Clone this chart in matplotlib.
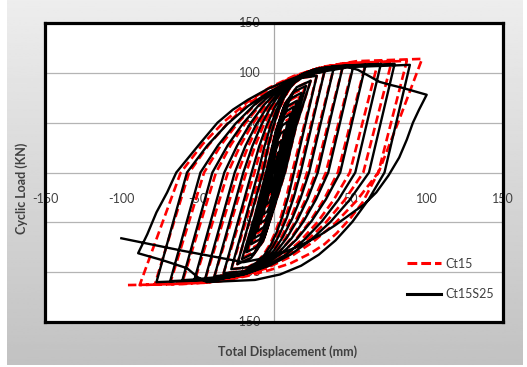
import numpy as np
import matplotlib.pyplot as plt
from matplotlib.lines import Line2D

# Ct15 (red dashed): (displacement mm, load kN) along the test path
ct15 = [
    (0, 0), (1.5, 12), (3, 22),
    (1.8, 11), (0.9, 0), (-0.15, -9.9), (-0.9, -16.5), (-1.86, -20.5), (-3, -22),
    (-1.8, -11), (-0.75, 0), (0.25, 15.3), (1.5, 25.5), (3.1, 31.6), (5, 34),
    (3, 17), (1.5, 0), (-0.25, -15.3), (-1.5, -25.5), (-3.1, -31.6), (-5, -34),
    (-3, -17), (-1.25, 0), (0.35, 19.8), (2.1, 33), (4.34, 40.9), (7, 44),
    (4.2, 22), (2.1, 0), (-0.35, -19.8), (-2.1, -33), (-4.34, -40.9), (-7, -44),
    (-4.2, -22), (-1.75, 0), (0.45, 23.9), (2.7, 39.8), (5.58, 49.3), (9, 53),
    (5.4, 26.5), (2.7, 0), (-0.45, -23.9), (-2.7, -39.8), (-5.58, -49.3), (-9, -53),
    (-5.4, -26.5), (-2.25, 0), (0.55, 27.5), (3.3, 45.8), (6.82, 56.7), (11, 61),
    (6.6, 30.5), (3.3, 0), (-0.55, -27.5), (-3.3, -45.8), (-6.82, -56.7), (-11, -61),
    (-6.6, -30.5), (-2.75, 0), (0.7, 31.5), (4.2, 52.5), (8.68, 65.1), (14, 70),
    (8.4, 35), (4.2, 0), (-0.7, -31.5), (-4.2, -52.5), (-8.68, -65.1), (-14, -70),
    (-8.4, -35), (-3.5, 0), (0.85, 35.1), (5.1, 58.5), (10.54, 72.5), (17, 78),
    (10.2, 39), (5.1, 0), (-0.85, -35.1), (-5.1, -58.5), (-10.54, -72.5), (-17, -78),
    (-10.2, -39), (-4.25, 0), (1, 38.3), (6, 63.8), (12.4, 79.1), (20, 85),
    (12, 42.5), (6, 0), (-1, -38.3), (-6, -63.8), (-12.4, -79.1), (-20, -85),
    (-12, -42.5), (-5, 0), (1.2, 41.4), (7.2, 69), (14.88, 85.6), (24, 92),
    (14.4, 46), (7.2, 0), (-1.2, -41.4), (-7.2, -69), (-14.88, -85.6), (-24, -92),
    (-6.87, 0), (-3.7, 24.3), (-0.56, 43.7), (2.75, 60.1), (6.03, 72.8),
    (9.48, 82.5), (13.63, 90.2), (18.55, 95.1), (28, 97),
    (11.83, 0), (8.21, -24.3), (4.62, -43.7), (0.84, -60.1), (-2.91, -72.8),
    (-6.85, -82.5), (-11.59, -90.2), (-17.21, -95.1), (-28, -97),
    (-8.6, 0), (-4.81, 25.3), (-1.07, 45.5), (2.88, 62.6), (6.79, 75.8),
    (10.91, 85.9), (15.86, 93.9), (21.73, 99), (33, 101),
    (16.17, 0), (11.7, -25.3), (7.27, -45.5), (2.6, -62.6), (-2.02, -75.8),
    (-6.89, -85.9), (-12.74, -93.9), (-19.68, -99), (-33, -101),
    (-12.8, 0), (-8.09, 26), (-3.42, 46.8), (1.5, 64.5), (6.37, 78),
    (11.49, 88.4), (17.66, 96.7), (24.96, 101.9), (39, 104),
    (21.67, 0), (16.15, -26), (10.69, -46.8), (4.93, -64.5), (-0.78, -78),
    (-6.78, -88.4), (-14.0, -96.7), (-22.56, -101.9), (-39, -104),
    (-18.2, 0), (-12.45, 26.5), (-6.76, 47.7), (-0.76, 65.7), (5.18, 79.5),
    (11.44, 90.1), (18.96, 98.6), (27.87, 103.9), (45, 106),
    (27.33, 0), (20.75, -26.8), (14.24, -48.2), (7.37, -66.3), (0.57, -80.3),
    (-6.59, -91), (-15.2, -99.5), (-25.4, -104.9), (-45, -107),
    (-23.6, 0), (-16.72, 27), (-9.92, 48.6), (-2.73, 67), (4.37, 81),
    (11.86, 91.8), (20.85, 100.4), (31.51, 105.8), (52, 108),
    (34, 0), (26.17, -27.3), (18.43, -49.1), (10.26, -67.6), (2.18, -81.8),
    (-6.33, -92.7), (-16.57, -101.4), (-28.69, -106.8), (-52, -109),
    (-30.2, 0), (-21.99, 27.3), (-13.87, 49.1), (-5.3, 67.6), (3.17, 81.8),
    (12.1, 92.7), (22.84, 101.4), (35.56, 106.8), (60, 109),
    (41.83, 0), (32.56, -27.5), (23.4, -49.5), (13.72, -68.2), (4.15, -82.5),
    (-5.93, -93.5), (-18.05, -102.3), (-32.4, -107.8), (-60, -110),
    (-38, 0), (-28.35, 27.5), (-18.81, 49.5), (-8.74, 68.2), (1.22, 82.5),
    (11.71, 93.5), (24.33, 102.3), (39.27, 107.8), (68, 110),
    (49.67, 0), (38.96, -27.8), (28.37, -50), (17.19, -68.8), (6.13, -83.3),
    (-5.52, -94.4), (-19.52, -103.2), (-36.11, -108.8), (-68, -111),
    (-45.8, 0), (-34.63, 27.8), (-23.57, 50), (-11.91, 68.8), (-0.36, 83.3),
    (11.79, 94.4), (26.41, 103.2), (43.72, 108.8), (77, 111),
    (58.5, 0), (46.08, -28), (33.79, -50.4), (20.83, -69.4), (7.99, -84),
    (-5.52, -95.2), (-21.76, -104.2), (-41.01, -109.8), (-78, -112),
    (-55.6, 0), (-42.62, 28), (-29.79, 50.4), (-16.24, 69.4), (-2.84, 84),
    (11.28, 95.2), (28.25, 104.2), (48.36, 109.8), (87, 112),
    (68.33, 0), (54.1, -28.3), (40.03, -50.9), (25.18, -70.1), (10.49, -84.8),
    (-4.99, -96.1), (-23.59, -105.1), (-45.63, -110.7), (-88, -113),
    (-61.1, 0), (-46.71, 28.5), (-32.48, 51.3), (-17.46, 70.7), (-2.6, 85.5),
    (13.05, 96.9), (31.86, 106), (54.15, 111.7), (97, 114),
    (83, 57), (69, 2), (58, -30), (50, -46), (41, -61), (33, -72), (24, -81),
    (11, -91), (-3, -98), (-18, -104), (-35, -109), (-60, -112), (-98, -113),
]

# Ct15S25 (black solid)
ct15s25 = [
    (0, 0), (1.5, 11), (3, 20),
    (1.8, 10), (0.9, 0), (-0.15, -9), (-0.9, -15), (-1.86, -18.6), (-3, -20),
    (-1.8, -10), (-0.75, 0), (0.25, 14.4), (1.5, 24), (3.1, 29.8), (5, 32),
    (3, 16), (1.5, 0), (-0.25, -14.4), (-1.5, -24), (-3.1, -29.8), (-5, -32),
    (-3, -16), (-1.25, 0), (0.35, 18.9), (2.1, 31.5), (4.34, 39.1), (7, 42),
    (4.2, 21), (2.1, 0), (-0.35, -18.9), (-2.1, -31.5), (-4.34, -39.1), (-7, -42),
    (-4.2, -21), (-1.75, 0), (0.45, 23), (2.7, 38.3), (5.58, 47.4), (9, 51),
    (5.4, 25.5), (2.7, 0), (-0.45, -23), (-2.7, -38.3), (-5.58, -47.4), (-9, -51),
    (-5.4, -25.5), (-2.25, 0), (0.55, 26.6), (3.3, 44.3), (6.82, 54.9), (11, 59),
    (6.6, 29.5), (3.3, 0), (-0.55, -26.6), (-3.3, -44.3), (-6.82, -54.9), (-11, -59),
    (-6.6, -29.5), (-2.75, 0), (0.65, 29.7), (3.9, 49.5), (8.06, 61.4), (13, 66),
    (7.8, 33), (3.9, 0), (-0.65, -29.7), (-3.9, -49.5), (-8.06, -61.4), (-13, -66),
    (-7.8, -33), (-3.25, 0), (0.75, 32.4), (4.5, 54), (9.3, 67), (15, 72),
    (9, 36), (4.5, 0), (-0.75, -32.4), (-4.5, -54), (-9.3, -67), (-15, -72),
    (-9, -36), (-3.75, 0), (0.9, 36), (5.4, 60), (11.16, 74.4), (18, 80),
    (10.8, 40), (5.4, 0), (-0.9, -36), (-5.4, -60), (-11.16, -74.4), (-18, -80),
    (-10.8, -40), (-4.5, 0), (1.05, 39.2), (6.3, 65.3), (13.02, 80.9), (21, 87),
    (12.6, 43.5), (6.3, 0), (-1.05, -39.2), (-6.3, -65.3), (-13.02, -80.9), (-21, -87),
    (-12.6, -43.5), (-5.25, 0), (1.2, 41.4), (7.2, 69), (14.88, 85.6), (24, 92),
    (14.4, 46), (7.2, 0), (-1.2, -41.4), (-7.2, -69), (-14.88, -85.6), (-24, -92),
    (-7.3, 0), (-4.09, 24.3), (-0.91, 43.7), (2.44, 60.1), (5.76, 72.8),
    (9.26, 82.5), (13.46, 90.2), (18.43, 95.1), (28, 97),
    (13.08, 0), (9.34, -24.3), (5.64, -43.7), (1.74, -60.1), (-2.12, -72.8),
    (-6.19, -82.5), (-11.07, -90.2), (-16.87, -95.1), (-28, -97),
    (-10.36, 0), (-6.41, 25.3), (-2.51, 45.5), (1.61, 62.6), (5.68, 75.8),
    (9.98, 85.9), (15.14, 93.9), (21.25, 99), (33, 101),
    (17.46, 0), (12.87, -25.3), (8.33, -45.5), (3.53, -62.6), (-1.21, -75.8),
    (-6.21, -85.9), (-12.21, -93.9), (-19.33, -99), (-33, -101),
    (-14.64, 0), (-9.76, 26), (-4.93, 46.8), (0.16, 64.5), (5.21, 78),
    (10.52, 88.4), (16.9, 96.7), (24.46, 101.9), (39, 104),
    (23, 0), (17.36, -26), (11.78, -46.8), (5.89, -64.5), (0.06, -78),
    (-6.08, -88.4), (-13.46, -96.7), (-22.2, -101.9), (-39, -104),
    (-20.1, 0), (-14.18, 26.5), (-8.32, 47.7), (-2.13, 65.7), (3.99, 79.5),
    (10.43, 90.1), (18.18, 98.6), (27.36, 103.9), (45, 106),
    (28.69, 0), (21.98, -26.5), (15.35, -47.7), (8.35, -65.7), (1.42, -79.5),
    (-5.87, -90.1), (-14.64, -98.6), (-25.03, -103.9), (-45, -106),
    (-25.73, 0), (-18.66, 26.8), (-11.66, 48.2), (-4.28, 66.3), (3.03, 80.3),
    (10.73, 91), (19.98, 99.5), (30.94, 104.9), (52, 107),
    (35.54, 0), (27.57, -26.8), (19.7, -48.2), (11.38, -66.3), (3.15, -80.3),
    (-5.52, -91), (-15.93, -99.5), (-28.28, -104.9), (-52, -107),
    (-32.55, 0), (-24.13, 27), (-15.8, 48.6), (-7.01, 67), (1.69, 81),
    (10.86, 91.8), (21.87, 100.4), (34.92, 105.8), (60, 108),
    (43.38, 0), (33.97, -27), (24.67, -48.6), (14.85, -67), (5.13, -81),
    (-5.11, -91.8), (-17.41, -100.4), (-31.98, -105.8), (-60, -108),
    (-40.36, 0), (-30.32, 27.3), (-20.38, 49.1), (-9.9, 67.6), (0.47, 81.8),
    (11.4, 92.7), (24.53, 101.4), (40.09, 106.8), (70, 109),
    (53.23, 0), (42.2, -27.3), (31.29, -49.1), (19.77, -67.6), (8.37, -81.8),
    (-3.63, -92.7), (-18.05, -101.4), (-35.15, -106.8), (-68, -109),
    (-48.18, 0), (-36.61, 27.3), (-25.16, 49.1), (-13.08, 67.6), (-1.12, 81.8),
    (11.47, 92.7), (26.6, 101.4), (44.53, 106.8), (79, 109),
    (62.23, 0), (49.56, -27.5), (37.03, -49.5), (23.8, -68.2), (10.71, -82.5),
    (-3.07, -93.5), (-19.64, -102.3), (-39.27, -107.8), (-77, -110),
    (-57, 0), (-43.71, 27), (-30.57, 48.6), (-16.7, 67), (-2.98, 81),
    (11.47, 91.8), (28.85, 100.4), (49.43, 105.8), (89, 108),
    (72.38, 0), (61.79, -27.5), (51.32, -49.5), (40.26, -68.2), (29.32, -82.5),
    (17.8, -93.5), (3.95, -102.3), (-12.46, -107.8), (-44, -110),
    (-50, -105), (-57, -96), (-73, -88), (-89, -81),
    (-83, -62), (-77, -40), (-70, -20), (-64, 0), (-56, 15), (-48, 30),
    (-37, 50), (-27, 63), (-17, 73), (-4, 84), (10, 93), (24, 101), (38, 106),
    (48, 106), (55, 103), (62, 97), (69, 91), (76, 88), (84, 85), (100, 78),
    (95, 63), (91, 50), (87, 33), (82, 15), (75, -3), (67, -20), (59, -32),
    (50, -42), (40, -53), (30, -63), (20, -71), (10, -78), (0, -83),
    (-10, -87), (-20, -90), (-60, -78.5), (-100, -66),
]

series_names = ["Ct15", "Ct15S25"]
x_ticks = [-150, -100, -50, 0, 50, 100, 150]
y_ticks = [-150, -100, -50, 0, 50, 100, 150]

W, H = 527, 367
fig = plt.figure(figsize=(W / 100, H / 100), dpi=100, facecolor="white")

# grey gradient panel behind the chart
bg = fig.add_axes([7 / W, 2 / H, 516 / W, 365 / H])
grad = np.linspace(0.93, 0.76, 200).reshape(-1, 1)
bg.imshow(grad, aspect="auto", cmap="gray", vmin=0, vmax=1, extent=[0, 1, 0, 1])
bg.set_axis_off()

ax = fig.add_axes([45 / W, 45 / H, 458 / W, 299 / H])
ax.set_facecolor("white")
ax.set_xlim(-150, 150)
ax.set_ylim(-150, 150)

for v in y_ticks[1:-1]:
    ax.axhline(v, color="#b4b4b4", lw=0.9, zorder=0.5)
ax.axvline(0, color="#a8a8a8", lw=0.9, zorder=0.5)
ax.set_xticks([])
ax.set_yticks([])

for s in ax.spines.values():
    s.set_linewidth(2.3)
    s.set_color("black")
    s.set_zorder(6)

font = "Lato"
for v in x_ticks:
    if v == 0:
        continue
    ax.text(v, -26.5, str(v), ha="center", va="center", fontsize=9,
            color="#404040", family=font, zorder=1)
for v in y_ticks:
    if v == 0:
        continue
    ax.text(-9, v, str(v), ha="right", va="center", fontsize=9,
            color="#404040", family=font, zorder=1)

bx, by = zip(*ct15s25)
rx, ry = zip(*ct15)
ax.plot(rx, ry, color="#ff0000", lw=1.9, dashes=(3.2, 1.6), zorder=3)
ax.plot(bx, by, color="black", lw=1.7, zorder=4, solid_joinstyle="round")

handles = [Line2D([], [], color="#ff0000", lw=2.2, dashes=(3.2, 1.3)),
           Line2D([], [], color="black", lw=2.2)]
ax.legend(handles, series_names, loc="upper left", bbox_to_anchor=(0.79, 0.215),
          frameon=False, borderpad=0, borderaxespad=0, handlelength=2.7,
          handletextpad=0.4, labelspacing=1.5, prop={"family": font, "size": 9},
          labelcolor="#404040")

fig.text(22 / W, 1 - 188 / H, "Cyclic Load (KN)", rotation=90, ha="center",
         va="center", fontsize=9, fontweight="bold", color="#404040", family=font)
fig.text(288 / W, 1 - 352 / H, "Total Displacement (mm)", ha="center",
         va="center", fontsize=9, fontweight="bold", color="#404040", family=font)

fig.savefig("out.png", dpi=100, facecolor="white")
